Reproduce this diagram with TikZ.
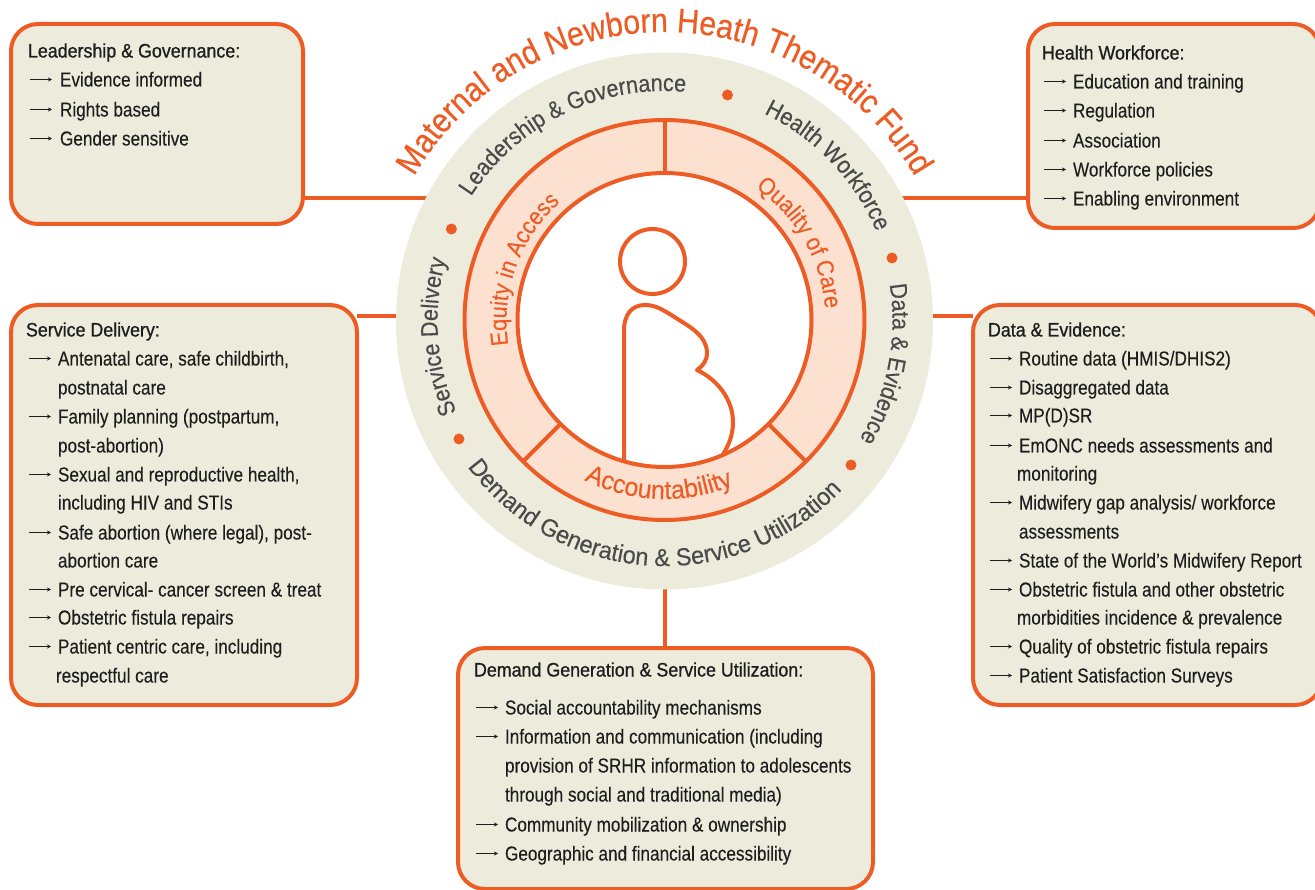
\documentclass[tikz,border=0pt]{standalone}
\usepackage{fontspec}
\setmainfont[FakeStretch=0.85,FakeBold=0.12]{Liberation Sans}
\newfontfamily\headfont[FakeStretch=0.915,FakeBold=0.9]{Liberation Sans}
\newfontfamily\titlefont[FakeStretch=0.89,FakeBold=0.5]{Liberation Sans}
\newfontfamily\arcfont[FakeStretch=0.90,FakeBold=0.3]{Liberation Sans}
\newfontfamily\widearcfont[FakeStretch=0.96,FakeBold=0.3]{Liberation Sans}
\usetikzlibrary{decorations.text,arrows.meta}
\definecolor{accent}{HTML}{EE5C26}
\definecolor{boxfill}{HTML}{EDECDC}
\definecolor{pinkfill}{HTML}{FDE1D0}
\definecolor{ringtext}{HTML}{4A4A4A}
\definecolor{itemtext}{HTML}{1E1E1E}
\tikzset{
  infobox/.style={draw=accent,fill=boxfill,line width=4pt,rounded corners=27pt,anchor=north west,inner sep=0pt,outer sep=0pt},
  link/.style={draw=accent,line width=4pt},
  rim/.style={draw=accent,line width=4pt},
  disc/.style={circle,inner sep=0pt,outer sep=0pt},
  itemline/.style={anchor=base west,inner sep=0pt,outer sep=0pt,font=\fontsize{20.2}{21}\selectfont,text=itemtext},
  headline/.style={anchor=base west,inner sep=0pt,outer sep=0pt,font=\headfont\fontsize{19.5}{21}\selectfont,text=itemtext},
  itemarrow/.style={draw=itemtext,line width=1pt,-{Stealth[length=4pt,width=4pt]}},
  spot/.style={disc,fill=accent,minimum size=11pt},
}
% plain line: name, x, y(centre), text
\newcommand{\plain}[4]{\node[itemline] (#1) at (#2,{-(#3)-6.5}) {#4};}
% arrowed line: name, arrow x, text x, y(centre), text
\newcommand{\arrowed}[5]{\node[itemline] (#1) at (#3,{-(#4)-6.5}) {#5};
  \coordinate (#1a) at (#2,{-(#4)+0.5}); \coordinate (#1b) at ({#2+22},{-(#4)+0.5});
  \draw[itemarrow] (#1a) -- (#1b);}
\newcommand{\heading}[4]{\node[headline] (#1) at (#2,{-(#3)-6.5}) {#4};}
% radius, centre angle, half span (signed: + clockwise), format, text
\newcommand{\arctext}[5]{\path[decorate,decoration={text along path,text={|#4|#5},text align=center}]
  (664.5,-321) ++({#2+#3}:#1) arc[start angle={#2+#3},end angle={#2-#3},radius=#1];}
\begin{document}
\begin{tikzpicture}[x=1pt,y=1pt]
\useasboundingbox (0,0) rectangle (1315,-890);
% connectors
\coordinate (ja) at (430,-198);
\coordinate (jb) at (900,-198);
\coordinate (jc) at (400,-316);
\coordinate (jd) at (930,-316);
\coordinate (je) at (664.5,-585);
% boxes
\node[infobox,minimum width=292pt,minimum height=200pt] (lg) at (11,-24) {};
\node[infobox,minimum width=292pt,minimum height=204pt] (hw) at (1028,-24) {};
\node[infobox,minimum width=346pt,minimum height=400pt] (sd) at (11,-305) {};
\node[infobox,minimum width=349pt,minimum height=400pt] (de) at (973,-305) {};
\node[infobox,minimum width=415pt,minimum height=241pt] (dg) at (458,-648) {};
\draw[link] (lg.east |- ja) -- (ja);
\draw[link] (hw.west |- jb) -- (jb);
\draw[link] (sd.east |- jc) -- (jc);
\draw[link] (de.west |- jd) -- (jd);
\draw[link] (dg.north -| je) -- (je);
% wheel
\node[disc,fill=boxfill,minimum size=537pt] (wheel) at (664.5,-321) {};
\node[disc,fill=pinkfill,rim,minimum size=400pt] (outer) at (664.5,-320) {};
\node[disc,fill=white,rim,minimum size=294pt] (inner) at (664.5,-320) {};
\draw[rim] (outer.north) -- (inner.north);
\draw[rim] (outer.225) -- (inner.225);
\draw[rim] (outer.315) -- (inner.315);
% figure
\node[disc,rim,minimum size=65pt] (head) at (652.5,-261.5) {};
\draw[rim,line join=round] (624,-460) -- (624,-331)
  .. controls (624,-314) and (632,-305) .. (645,-305)
  .. controls (655,-305) and (662,-309) .. (676,-318)
  .. controls (692,-328) and (706,-336) .. (707,-352)
  .. controls (707.5,-360) and (703,-366) .. (697,-370)
  .. controls (718,-380) and (733,-400) .. (733,-422)
  .. controls (733,-435) and (729,-445) .. (722,-456);
% dots
\node[spot] (d1) at (727.5,-95) {};
\node[spot] (d2) at (451.4,-229) {};
\node[spot] (d3) at (892,-258) {};
\node[spot] (d4) at (459,-439) {};
\node[spot] (d5) at (851,-465) {};
% curved text
\arctext{289}{90}{85}{\titlefont\fontsize{34}{36}\selectfont\color{accent}}{Maternal and Newborn Heath Thematic Fund}
\arctext{230}{116}{60}{\arcfont\fontsize{24}{26}\selectfont\color{ringtext}}{Leadership {\&} Governance}
\arctext{230}{43.6}{40}{\arcfont\fontsize{24}{26}\selectfont\color{ringtext}}{Health Workforce}
\arctext{228}{-11}{40}{\arcfont\fontsize{24}{26}\selectfont\color{ringtext}}{Data {\&} Evidence}
\arctext{227}{184}{40}{\arcfont\fontsize{24}{26}\selectfont\color{ringtext}}{Service Delivery}
\arctext{245}{266.5}{-60}{\widearcfont\fontsize{24.5}{26}\selectfont\color{ringtext}}{Demand Generation {\&} Service Utilization}
\arctext{158}{160}{50}{\arcfont\fontsize{24}{26}\selectfont\color{accent}}{Equity in Access}
\arctext{161}{30}{50}{\arcfont\fontsize{24}{26}\selectfont\color{accent}}{Quality of Care}
\arctext{178}{268}{-45}{\widearcfont\fontsize{26}{28}\selectfont\color{accent}}{Accountability}
% Leadership
\heading{ah}{28}{51}{Leadership \& Governance:}
\arrowed{a1}{30}{60}{80}{Evidence informed}
\arrowed{a2}{30}{60}{110}{Rights based}
\arrowed{a3}{30}{60}{139}{Gender sensitive}
% Workforce
\heading{bh}{1042}{53}{Health Workforce:}
\arrowed{b1}{1044}{1073}{82}{Education and training}
\arrowed{b2}{1044}{1073}{111}{Regulation}
\arrowed{b3}{1044}{1073}{141}{Association}
\arrowed{b4}{1044}{1073}{170}{Workforce policies}
\arrowed{b5}{1044}{1073}{199}{Enabling environment}
% Service delivery
\heading{ch}{26}{330}{Service Delivery:}
\arrowed{c1}{29}{58}{359}{Antenatal care, safe childbirth,}
\plain{c2}{58}{388}{postnatal care}
\arrowed{c3}{29}{58}{417}{Family planning (postpartum,}
\plain{c4}{58}{446}{post-abortion)}
\arrowed{c5}{29}{58}{475}{Sexual and reproductive health,}
\plain{c6}{58}{503}{including HIV and STIs}
\arrowed{c7}{29}{58}{533}{Safe abortion (where legal), post-}
\plain{c8}{58}{561}{abortion care}
\arrowed{c9}{29}{58}{590}{Pre cervical- cancer screen \& treat}
\arrowed{c10}{29}{58}{618}{Obstetric fistula repairs}
\arrowed{c11}{29}{58}{647}{Patient centric care, including}
\plain{c12}{56}{676}{respectful care}
% Data
\heading{eh}{988}{330}{Data \& Evidence:}
\arrowed{e1}{990}{1019}{359}{Routine data (HMIS/DHIS2)}
\arrowed{e2}{990}{1019}{388}{Disaggregated data}
\arrowed{e3}{990}{1019}{416}{MP(D)SR}
\arrowed{e4}{990}{1019}{446}{EmONC needs assessments and}
\plain{e5}{1017}{474}{monitoring}
\arrowed{e6}{990}{1019}{503}{Midwifery gap analysis/ workforce}
\plain{e7}{1019}{532}{assessments}
\arrowed{e8}{990}{1019}{561}{State of the World’s Midwifery Report}
\arrowed{e9}{990}{1019}{590}{Obstetric fistula and other obstetric}
\plain{e10}{1017}{618}{morbidities incidence \& prevalence}
\arrowed{e11}{990}{1019}{647}{Quality of obstetric fistula repairs}
\arrowed{e12}{990}{1019}{676}{Patient Satisfaction Surveys}
% Demand
\heading{fh}{474}{670}{Demand Generation \& Service Utilization:}
\arrowed{f1}{476}{505}{708}{Social accountability mechanisms}
\arrowed{f2}{476}{505}{737}{Information and communication (including}
\plain{f3}{505}{766}{provision of SRHR information to adolescents}
\plain{f4}{505}{795}{through social and traditional media)}
\arrowed{f5}{476}{505}{825}{Community mobilization \& ownership}
\arrowed{f6}{476}{505}{854}{Geographic and financial accessibility}
\end{tikzpicture}
\end{document}
